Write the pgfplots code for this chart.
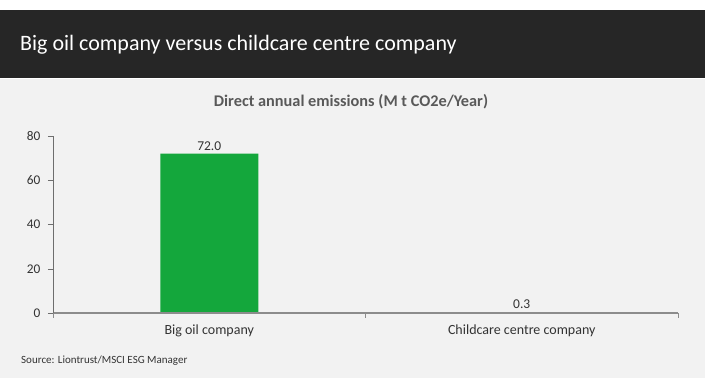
\documentclass[border=0pt]{standalone}
\usepackage{fontspec}
\setmainfont{Carlito}
\usepackage{pgfplots}
\pgfplotsset{compat=1.18}
\definecolor{headdark}{HTML}{262626}
\definecolor{bggray}{HTML}{F2F2F2}
\definecolor{bargreen}{HTML}{14A73C}
\definecolor{ticktext}{HTML}{333333}
\definecolor{titlegray}{HTML}{595959}
\definecolor{yaxgray}{HTML}{6E6E6E}
\definecolor{xaxgray}{HTML}{8C8C8C}
\begin{document}
\begin{tikzpicture}
\fill[white] (0pt,0pt) rectangle (705pt,390pt);
\fill[bggray] (0pt,12pt) rectangle (705pt,311pt);
\fill[headdark] (0pt,312pt) rectangle (705pt,380pt);
\node[anchor=base west, inner sep=0pt, text=white, font=\fontsize{22}{26}\selectfont] at (20pt,339pt) {Big oil company versus childcare centre company};
\node[anchor=base, inner sep=0pt, text=titlegray, font=\fontsize{16.3}{19}\selectfont\bfseries] at (351pt,283pt) {Direct annual emissions (M t CO2e/Year)};
\node[anchor=base west, inner sep=0pt, text=ticktext, font=\fontsize{11}{13}\selectfont] at (21pt,26pt) {Source: Liontrust/MSCI ESG Manager};
\begin{axis}[
  at={(53pt,77pt)}, anchor=south west,
  scale only axis, width=625pt, height=177pt,
  xmin=-0.5, xmax=1.5, ymin=0, ymax=80,
  axis x line*=bottom, axis y line*=left,
  x axis line style={draw=xaxgray, line width=1.4pt},
  y axis line style={draw=yaxgray},
  axis on top=true,
  ytick={0,20,40,60,80},
  xtick={-0.5,0.5,1.5}, xticklabels={},
  extra x ticks={0,1},
  extra x tick labels={Big oil company, Childcare centre company},
  extra x tick style={major tick length=0pt, tick label style={yshift=-8pt}},
  tick align=outside,
  major tick length=5pt,
  x tick style={draw=xaxgray},
  y tick style={draw=yaxgray},
  tick label style={text=ticktext},
  y tick label style={font=\fontsize{13.3}{16}\selectfont, xshift=-4pt},
  x tick label style={font=\fontsize{14}{17}\selectfont},
  /pgf/number format/assume math mode=true,
  ybar, bar width=98pt, bar shift=0pt,
  nodes near coords,
  nodes near coords style={text=black!80, font=\fontsize{13.5}{16}\selectfont,
    /pgf/number format/.cd, fixed, fixed zerofill, precision=1, assume math mode=true},
  clip=false,
]
\addplot[fill=bargreen, draw=none] coordinates {(0,72.0) (1,0.3)};
\end{axis}
\pgfresetboundingbox
\useasboundingbox (0pt,0pt) rectangle (705pt,390pt);
\end{tikzpicture}
\end{document}
